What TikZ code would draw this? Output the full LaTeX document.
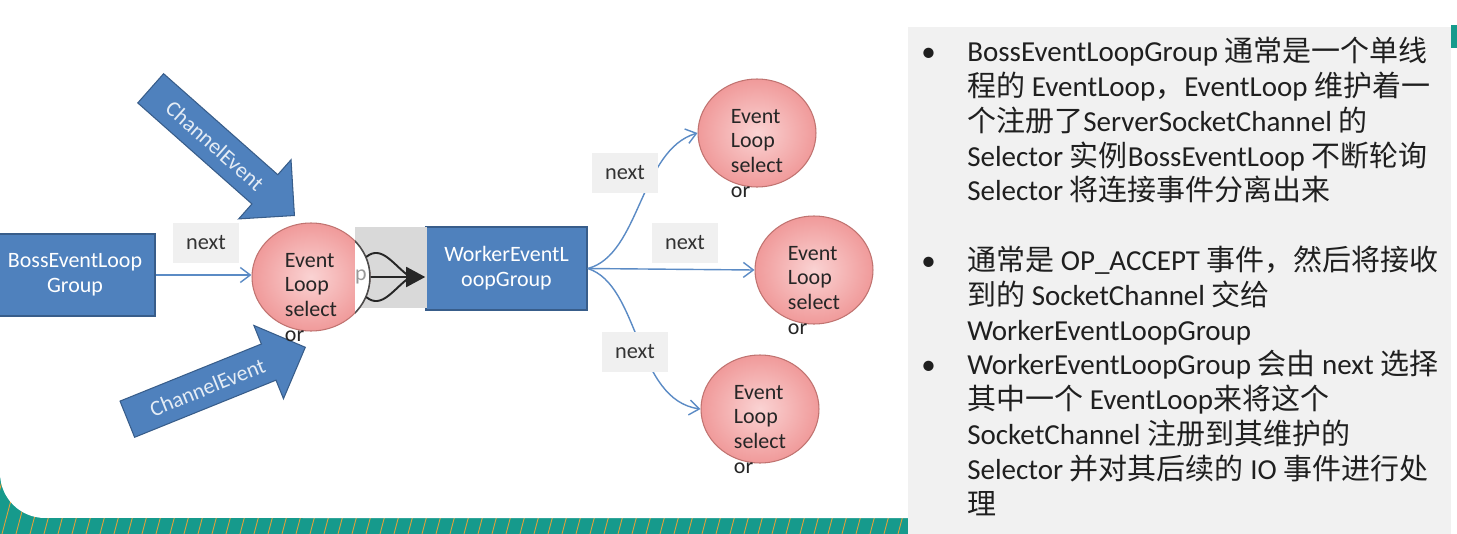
\documentclass[tikz,border=0pt]{standalone}
\usepackage{fontspec}
\setmainfont{Carlito}
\newfontfamily\cjk{Noto Sans CJK SC}
\usetikzlibrary{arrows.meta,positioning,shapes.geometric,shapes.arrows}

\definecolor{boxblue}{HTML}{4F81BD}
\definecolor{boxedge}{HTML}{385D8A}
\definecolor{linkblue}{HTML}{5B8BC5}
\definecolor{pinkin}{HTML}{FAD3D3}
\definecolor{pinkout}{HTML}{F09A9A}
\definecolor{pinkedge}{HTML}{C07370}
\definecolor{lblgray}{HTML}{F0F0F0}
\definecolor{shadegray}{HTML}{D9D9D9}
\definecolor{panelgray}{HTML}{F1F1F1}
\definecolor{bandteal}{HTML}{169A8C}
\definecolor{bandorange}{HTML}{E3A13A}

\newcommand\zh[1]{{\cjk #1}}
\newcommand\bul{\makebox[0.92cm][l]{•}}
\newcommand\ind{\hspace*{0.92cm}}

\begin{document}
\begin{tikzpicture}[x=0.02cm, y=-0.02cm,
    grp/.style={rectangle, draw=boxedge, line width=0.9pt, fill=boxblue,
      text=white, align=center, font=\fontsize{12.5}{14.2}\selectfont,
      minimum width=3.2cm, minimum height=1.65cm},
    loopcirc/.style={ellipse, draw=pinkedge, line width=0.6pt,
      inner color=pinkin, outer color=pinkout,
      minimum width=2.36cm, minimum height=2.16cm},
    looptext/.style={align=left, inner sep=0pt, text=black!85,
      font=\fontsize{12.5}{14.2}\selectfont},
    nextlbl/.style={fill=lblgray, text=black!80, minimum width=1.32cm,
      minimum height=0.8cm, font=\fontsize{12.7}{14}\selectfont},
    chevt/.style={single arrow, draw=boxedge, line width=0.6pt, fill=boxblue,
      text=white!85!boxblue, font=\fontsize{12.5}{14}\selectfont,
      minimum height=3.84cm, single arrow head extend=0.4cm,
      single arrow tip angle=90, text height=9pt, text depth=0pt,
      inner ysep=6.3pt, inner xsep=0pt},
    link/.style={draw=linkblue, line width=0.8pt,
      -{Straight Barb[length=0.2cm, width=0.3cm]}},
    notes/.style={align=left, inner sep=0pt, text=black!88,
      font=\fontsize{16.5}{19.8}\selectfont},
  ]
  \useasboundingbox (0,0) rectangle (1457,534);
  \clip (0,0) rectangle (1457,534);
  \fill[white] (0,0) rectangle (1457,534);

  % slide bottom band
  \begin{scope}
    \clip (0,440) rectangle (908,534);
    \fill[bandteal] (0,440) rectangle (908,534);
    \foreach \k in {-40,-26,...,940}
      \draw[bandorange, line width=0.5pt] (\k,534) -- (\k+25,440);
  \end{scope}
  \fill[white] (908,-10) -- (0,-10) -- (0,473)
    arc[start angle=180, end angle=270, radius=0.9cm] -- (908,518) -- cycle;

  % right panel
  \fill[panelgray] (908,27) rectangle (1451,540);
  \fill[bandteal] (1451,25) rectangle (1457,48);

  \node[notes, anchor=north west] (txt) at (921,37) {%
    \bul BossEventLoopGroup \zh{通常是一个单线}\\%
    \ind\zh{程的} EventLoop\zh{，}EventLoop \zh{维护着一}\\%
    \ind\zh{个注册了}ServerSocketChannel \zh{的}\\%
    \ind Selector \zh{实例}BossEventLoop \zh{不断轮询}\\%
    \ind Selector \zh{将连接事件分离出来}\\[0.696cm]%
    \bul\zh{通常是} OP\_ACCEPT \zh{事件，然后将接收}\\%
    \ind\zh{到的} SocketChannel \zh{交给}\\%
    \ind WorkerEventLoopGroup\\%
    \bul WorkerEventLoopGroup \zh{会由} next \zh{选择}\\%
    \ind\zh{其中一个} EventLoop\zh{来将这个}\\%
    \ind SocketChannel \zh{注册到其维护的}\\%
    \ind Selector \zh{并对其后续的} IO \zh{事件进行处}\\%
    \ind\zh{理}};

  % groups
  \node[grp] (b) at (75,275) {BossEventLoop\\Group};
  \node[grp, minimum width=3.22cm] (w) at (506.5,268.5) {WorkerEventL\\oopGroup};

  % channel events
  \node[chevt, rotate=-41.5, anchor=tip] (c1) at (295,216) {ChannelEvent};
  \node[chevt, rotate=22, anchor=tip] (c2) at (306,347) {ChannelEvent};

  % boss selector
  \fill[shadegray] (355,227) rectangle (427,308);
  \node[loopcirc] (e1) at (311,277) {};
  \begin{scope}
    \clip (355,200) rectangle (400,360);
    \draw[fill=white, draw=black!70, line width=0.9pt]
      (e1.center) ellipse [x radius=1.18cm, y radius=1.08cm];
  \end{scope}
  \node[looptext] (t1) at ([yshift=-0.41cm]e1.center) {Event\\Loop\\select\\or};
  \node[text=black!40, font=\fontsize{12.5}{14}\selectfont] (p1) at (361,277) {p};

  % hand over to worker
  \begin{scope}[line width=1.1pt, draw=black!85]
    \draw[-{Triangle[length=0.38cm, width=0.4cm]}] (e1.east) -- (e1.east -| w.west);
    \draw (e1.20) .. controls (382,244) and (394,266) .. ([xshift=-0.3cm]e1.east -| w.west);
    \draw (e1.-20) .. controls (382,310) and (394,288) .. ([xshift=-0.3cm]e1.east -| w.west);
  \end{scope}

  % worker selectors
  \foreach \n/\x/\y in {e2/757/133, e3/814/270, e4/760/409} {
    \node[loopcirc] (\n) at (\x,\y) {};
    \node[looptext] (\n t) at ([yshift=-0.41cm]\n.center) {Event\\Loop\\select\\or};
  }

  \draw[link] (b.east) -- (b.east -| e1.west);
  \draw[link] (w.east) -- (e3.west);
  \draw[link] (w.east) .. controls (640,255) and (640,150) .. (e2.west);
  \draw[link] (w.east) .. controls (640,285) and (635,400) .. (e4.west);

  \node[nextlbl] (n1) at (206,243) {next};
  \node[nextlbl] (n2) at (625,173) {next};
  \node[nextlbl] (n3) at (685,243) {next};
  \node[nextlbl] (n4) at (635,352) {next};
\end{tikzpicture}
\end{document}
